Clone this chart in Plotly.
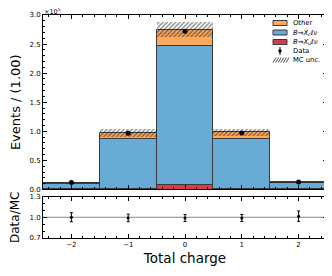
import plotly.graph_objects as go

charge = [-2, -1, 0, 1, 2]
xu_ev = [200, 1000, 7000, 1000, 200]
xc_ev = [9800, 85500, 239000, 85500, 10500]
other_ev = [2000, 11000, 29000, 11500, 1800]
mc_unc = [1200, 6400, 12600, 6300, 1200]
data_ev = [12000, 96500, 272000, 97000, 12700]
ratio_err = [0.065, 0.055, 0.05, 0.05, 0.075]
ytick_vals = [0, 50000, 100000, 150000, 200000, 250000, 300000]
ytick_text = ["0.0", "0.5", "1.0", "1.5", "2.0", "2.5", "3.0"]
legend_labels = ["Other", "<i>B</i>→<i>X<sub>c</sub>ℓν</i>", "<i>B</i>→<i>X<sub>u</sub>ℓν</i>",
                 "Data", "MC unc."]

c_other = "#FFA95E"
c_xc = "#68ACD6"
c_xu = "#D83A4E"
edge = "#3a3a3a"
font = "DejaVu Sans"

OFF = 8  # default page body margin
W, H = 332 - OFF, 276 - OFF
ML, MR, MT, MB = 43 - OFF, 5, 15 - OFF, 38
PW, PH = W - ML - MR, H - MT - MB


def px(x):
    return (x - OFF - ML) / PW


def py(y):
    return 1 - (y - OFF - MT) / PH


b1 = xu_ev
b2 = [a + b for a, b in zip(xu_ev, xc_ev)]
total = [a + b for a, b in zip(b2, other_ev)]
ratio = [d / t for d, t in zip(data_ev, total)]

fig = go.Figure()
fig.add_trace(go.Bar(x=charge, y=other_ev, base=b2, width=1, showlegend=False,
                     marker=dict(color=c_other, line=dict(color=edge, width=1)),
                     xaxis="x", yaxis="y"))
fig.add_trace(go.Bar(x=charge, y=xc_ev, base=b1, width=1, showlegend=False,
                     marker=dict(color=c_xc, line=dict(color=edge, width=1)),
                     xaxis="x", yaxis="y"))
fig.add_trace(go.Bar(x=charge, y=xu_ev, base=[0]*5, width=1, showlegend=False,
                     marker=dict(color=c_xu, line=dict(color=edge, width=1)),
                     xaxis="x", yaxis="y"))
fig.add_trace(go.Bar(x=charge, y=[2*u for u in mc_unc],
                     base=[t - u for t, u in zip(total, mc_unc)], width=1, showlegend=False,
                     marker=dict(color="rgba(0,0,0,0)", line=dict(width=0),
                                 pattern=dict(shape="/", fgcolor="#111", bgcolor="rgba(0,0,0,0)",
                                              size=3, solidity=0.45, fillmode="overlay")),
                     xaxis="x", yaxis="y"))
fig.add_trace(go.Scatter(x=charge, y=data_ev, mode="markers", showlegend=False,
                         marker=dict(color="black", size=5),
                         error_y=dict(type="data", array=[d**0.5 for d in data_ev],
                                      color="black", thickness=1, width=0),
                         xaxis="x", yaxis="y"))
fig.add_trace(go.Scatter(x=charge, y=ratio, mode="markers", showlegend=False,
                         marker=dict(color="black", size=3),
                         error_y=dict(type="data", array=ratio_err, color="black",
                                      thickness=1, width=1.5),
                         xaxis="x2", yaxis="y2"))

axis_common = dict(showline=True, linecolor="black", linewidth=1, mirror="allticks",
                   ticks="inside", ticklen=4, tickcolor="black", showgrid=False,
                   zeroline=False, automargin=False,
                   tickfont=dict(family=font, size=7, color="black"))

shapes = [dict(type="line", xref="x2", yref="y2", x0=-2.5, x1=2.5, y0=1, y1=1,
               line=dict(color="#888", width=1), layer="below")]
annotations = [dict(text="×10<sup>5</sup>", xref="paper", yref="paper", x=px(43), y=py(11.5),
                    xanchor="left", yanchor="middle", showarrow=False, borderpad=0,
                    font=dict(family=font, size=6.5))]

# manual legend
leg_y = [23, 32.5, 42, 51, 60]
fills = [c_other, c_xc, c_xu]
for i, c in enumerate(fills):
    shapes.append(dict(type="rect", xref="paper", yref="paper",
                       x0=px(273), x1=px(287), y0=py(leg_y[i] - 2.5), y1=py(leg_y[i] + 2.5),
                       fillcolor=c, line=dict(color=edge, width=1)))
# data marker
shapes.append(dict(type="line", xref="paper", yref="paper", x0=px(280), x1=px(280),
                   y0=py(leg_y[3] - 4), y1=py(leg_y[3] + 4), line=dict(color="black", width=1)))
shapes.append(dict(type="circle", xref="paper", yref="paper", x0=px(278.3), x1=px(281.7),
                   y0=py(leg_y[3] - 1.7), y1=py(leg_y[3] + 1.7), fillcolor="black",
                   line=dict(color="black", width=0)))
# hatch legend
for k in range(6):
    xa = 273 + k * 2.6
    shapes.append(dict(type="line", xref="paper", yref="paper", x0=px(xa), x1=px(xa + 3),
                       y0=py(leg_y[4] + 2.5), y1=py(leg_y[4] - 2.5),
                       line=dict(color="#222", width=0.8)))
for i, lab in enumerate(legend_labels):
    annotations.append(dict(text=lab, xref="paper", yref="paper", x=px(291), y=py(leg_y[i]),
                            xanchor="left", yanchor="middle", showarrow=False,
                            font=dict(family=font, size=6.8, color="black")))

fig.update_layout(
    width=W, height=H,
    margin=dict(l=ML, r=MR, t=MT, b=MB, autoexpand=False),
    paper_bgcolor="white", plot_bgcolor="white",
    barmode="overlay", bargap=0, showlegend=False,
    font=dict(family=font, color="black"),
    xaxis=dict(domain=[0, 1], anchor="y", range=[-2.5, 2.5], showticklabels=False,
               tickvals=charge, matches="x2",
               minor=dict(ticks="inside", ticklen=2, dtick=0.2, tickcolor="black"),
               **axis_common),
    yaxis=dict(domain=[0.2175, 1], anchor="x", range=[0, 300000],
               tickvals=ytick_vals, ticktext=ytick_text,
               minor=dict(ticks="inside", ticklen=2, dtick=10000, tickcolor="black"),
               title=dict(text="Events / (1.00)", font=dict(family=font, size=13), standoff=10),
               **axis_common),
    xaxis2=dict(domain=[0, 1], anchor="y2", range=[-2.5, 2.5], tickvals=charge,
                ticktext=["−2", "−1", "0", "1", "2"],
                minor=dict(ticks="inside", ticklen=2, dtick=0.2, tickcolor="black"),
                title=dict(text="Total charge", font=dict(family=font, size=13.5), standoff=5),
                **axis_common),
    yaxis2=dict(domain=[0, 0.186], anchor="x2", range=[0.7, 1.3],
                tickvals=[0.7, 1.0, 1.3], ticktext=["0.7", "1.0", "1.3"],
                minor=dict(ticks="inside", ticklen=2, dtick=0.1, tickcolor="black"),
                title=dict(text="Data/MC", font=dict(family=font, size=12), standoff=10),
                **axis_common),
    shapes=shapes,
    annotations=annotations,
)

fig.write_html("out.html")
